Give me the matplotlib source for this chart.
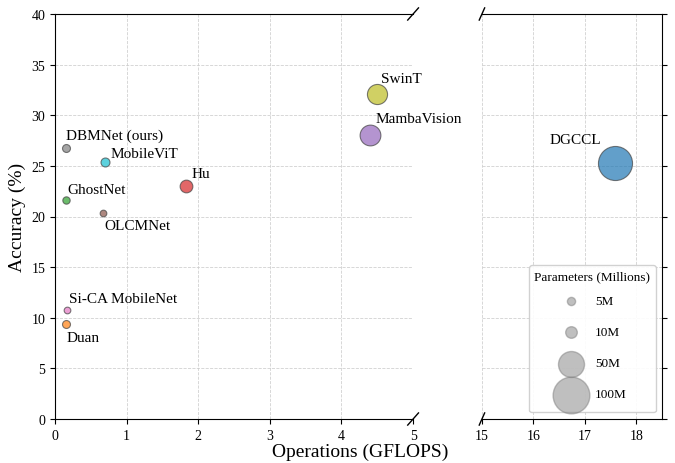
import matplotlib
matplotlib.use("Agg")
import matplotlib.pyplot as plt

plt.rcParams['font.family'] = ['Liberation Serif', 'DejaVu Serif']

# --- data ---
models = ["DBMNet (ours)", "MobileViT", "GhostNet", "OLCMNet", "Hu",
          "SwinT", "MambaVision", "Si-CA MobileNet", "Duan", "DGCCL"]
gflops = [0.15, 0.70, 0.15, 0.67, 1.83, 4.49, 4.40, 0.17, 0.16, 17.58]
accuracy = [26.8, 25.4, 21.6, 20.3, 23.0, 32.1, 28.0, 10.8, 9.4, 25.3]
params_m = [4.7, 6.0, 4.0, 3.3, 12.0, 30.0, 32.0, 3.3, 4.7, 86.0]
colors = ["tab:gray", "tab:cyan", "tab:green", "tab:brown", "tab:red",
          "tab:olive", "tab:purple", "tab:pink", "tab:orange", "tab:blue"]
# label offsets in points (dx, dy) and horizontal alignment
offsets = [(0, 9), (4, 6), (1, 8), (1, -9), (4, 9),
           (3, 11), (4, 12), (1, 8), (0, -10), (-10, 17)]
aligns = ["left"] * 9 + ["right"]

legend_sizes = [5, 10, 50, 100]
size_scale = 7

fig = plt.figure(figsize=(6.75, 4.64), dpi=100)
ax1 = fig.add_axes([0.0815, 0.0948, 0.5305, 0.8729])
ax2 = fig.add_axes([0.714, 0.0948, 0.267, 0.8729])

for ax in (ax1, ax2):
    for x, y, p, c in zip(gflops, accuracy, params_m, colors):
        ax.scatter(x, y, s=p * size_scale, c=c, alpha=0.7,
                   edgecolors="#444444", linewidths=0.8, zorder=3)
    for name, x, y, (dx, dy), ha in zip(models, gflops, accuracy, offsets, aligns):
        ax.annotate(name, (x, y), xytext=(dx, dy), textcoords="offset points",
                    ha=ha, va="center", fontsize=11, annotation_clip=True)
    ax.set_ylim(0, 40)
    ax.grid(True, linestyle="--", color="#cccccc", linewidth=0.6, alpha=0.9)
    ax.set_axisbelow(True)
    ax.tick_params(labelsize=10)

ax1.set_xlim(0, 5)
ax2.set_xlim(15, 18.5)
ax1.spines["right"].set_visible(False)
ax2.spines["left"].set_visible(False)
ax2.yaxis.tick_right()
ax2.tick_params(labelright=False)
ax1.set_yticks(range(0, 41, 5))
ax2.set_yticks(range(0, 41, 5))
ax1.set_xticks(range(0, 6))
ax2.set_xticks([15, 16, 17, 18])

ax1.set_ylabel("Accuracy (%)", fontsize=14)
fig.text(0.533, 0.026, "Operations (GFLOPS)", ha="center", va="center", fontsize=14)

# break marks
d = 0.015
kw = dict(color="k", clip_on=False, linewidth=1)
ax1.plot((1 - d, 1 + d), (-d, d), transform=ax1.transAxes, **kw)
ax1.plot((1 - d, 1 + d), (1 - d, 1 + d), transform=ax1.transAxes, **kw)
ax2.plot((-d, d), (-d, d), transform=ax2.transAxes, **kw)
ax2.plot((-d, d), (1 - d, 1 + d), transform=ax2.transAxes, **kw)

# size legend
handles = [ax2.scatter([], [], s=p * size_scale, c="gray", alpha=0.5,
                       edgecolors="gray") for p in legend_sizes]
ax2.legend(handles, [f"{p}M" for p in legend_sizes], title="Parameters (Millions)",
           loc="lower right", fontsize=9.5, title_fontsize=9.5, labelspacing=0.3,
           handleheight=2.8, borderpad=0.4, handletextpad=0.85, framealpha=0.9,
           scatterpoints=1, scatteryoffsets=[0.1])

fig.savefig("out.png", dpi=100)
